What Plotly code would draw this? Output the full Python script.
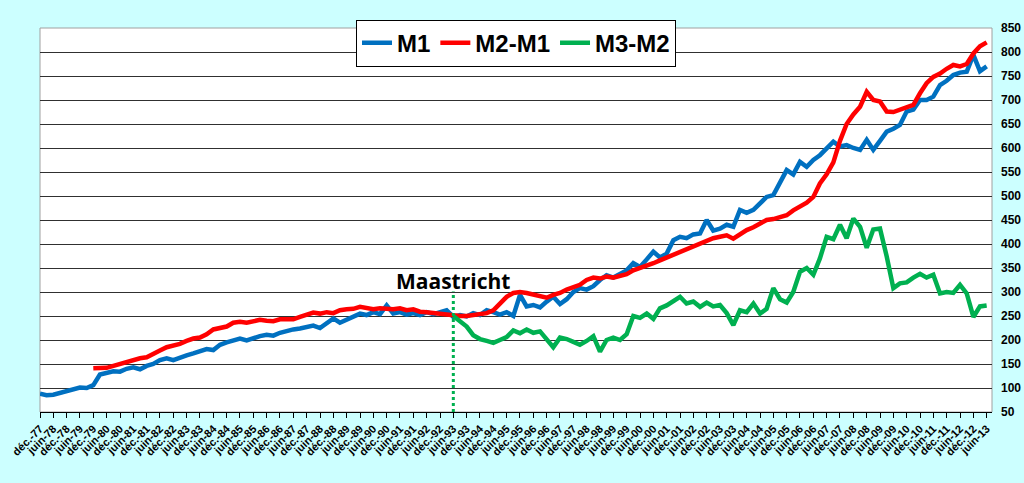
"""
Masse monétaire : M1, M2-M1, M3-M2 (points trimestriels relevés sur le graphique).
"""

import plotly.graph_objects as go
import pandas as pd

# quarterly values, first point déc.-77
m1 = [
    88, 85, 86, 90, 93, 97, 101, 100, 106, 128,
    131, 135, 134, 140, 143, 139, 146, 150, 158, 162,
    158, 164, 168, 172, 176, 181, 179, 190, 195, 200,
    203, 199, 204, 208, 211, 209, 215, 219, 222, 224,
    226, 230, 225, 236, 245, 236, 242, 247, 255, 252,
    258, 254, 272, 255, 258, 253, 256, 252, 258, 254,
    257, 262, 248, 252, 249, 256, 252, 262, 258, 253,
    258, 250, 294, 270, 273, 268, 280, 290, 275, 285,
    300, 308, 305, 312, 325, 335, 330, 338, 345, 360,
    352, 368, 384, 372, 380, 408, 415, 412, 420, 422,
    450, 428, 432, 440, 436, 471, 465, 471, 485, 498,
    502, 530, 554, 545, 571, 561, 575, 585, 600, 613,
    603, 606, 600, 596, 617, 596, 615, 634, 640, 648,
    676, 680, 700, 700, 707, 731, 740, 752, 757, 759,
    794, 760, 770,
]

# starts déc.-79
m2_m1 = [
    141, 142, 142, 146, 150, 155, 160, 162, 164, 170,
    178, 185, 188, 192, 198, 203, 205, 212, 222, 225,
    228, 236, 238, 236, 238, 242, 240, 239, 243, 244,
    243, 248, 252, 257, 255, 258, 256, 262, 264, 265,
    269, 266, 264, 266, 265, 264, 266, 262, 264, 259,
    258, 256, 256, 253, 250, 250, 250, 252, 254, 256,
    262, 275, 290, 298, 300, 298, 294, 292, 288, 294,
    298, 305, 311, 315, 325, 330, 328, 332, 330, 334,
    337, 345, 350, 353, 360, 366, 372, 377, 383, 390,
    395, 401, 408, 412, 415, 418, 411, 420, 429, 435,
    442, 450, 452, 456, 460, 470, 478, 486, 498, 526,
    545, 570, 615, 650, 670, 686, 717, 700, 697, 676,
    675, 680, 685, 690, 714, 735, 748, 755, 765, 773,
    770, 775, 797, 812, 820,
]

# starts juin-93
m3_m2 = [
    250, 240, 228, 210, 202, 198, 194, 200, 206, 220,
    214, 222, 215, 218, 200, 185, 205, 202, 196, 190,
    198, 208, 176, 200, 205, 200, 212, 250, 246, 255,
    244, 266, 272, 280, 290, 276, 280, 269, 278, 270,
    273, 256, 231, 262, 258, 276, 255, 265, 308, 285,
    278, 300, 342, 350, 336, 370, 415, 410, 440, 412,
    453, 436, 392, 430, 432, 374, 308, 318, 320, 330,
    338, 330, 336, 297, 300, 298, 315, 297, 248, 270,
    272,
]

maastricht = "1993-06-01"

dates = pd.date_range("1977-12-01", periods=len(m1), freq="3MS")
dates_m2 = pd.date_range("1979-12-01", periods=len(m2_m1), freq="3MS")
dates_m3 = pd.date_range(maastricht, periods=len(m3_m2), freq="3MS")

tick_dates = pd.date_range("1977-12-01", "2013-06-01", freq="6MS")
tick_text = ["<b>" + ("déc.-" if d.month == 12 else "juin-") + d.strftime("%y") + "</b>"
             for d in tick_dates]

fig = go.Figure()
fig.add_trace(go.Scatter(x=dates, y=m1, name="<b>M1</b>", mode="lines",
                         line=dict(color="#0070C0", width=4.5)))
fig.add_trace(go.Scatter(x=dates_m2, y=m2_m1, name="<b>M2-M1</b>", mode="lines",
                         line=dict(color="#FF0000", width=4.5)))
fig.add_trace(go.Scatter(x=dates_m3, y=m3_m2, name="<b>M3-M2</b>", mode="lines",
                         line=dict(color="#00B050", width=4.5)))

# Maastricht marker
fig.add_shape(type="line", xref="x", yref="y", x0=maastricht, x1=maastricht,
              y0=50, y1=301, line=dict(color="#00B050", width=3, dash="dot"))
fig.add_annotation(x=maastricht, y=323, text="<b>Maastricht</b>", showarrow=False,
                   font=dict(family="Open Sans", size=21, color="black"))

# plot frame
fig.add_shape(type="rect", xref="paper", yref="paper", x0=0, x1=1, y0=0, y1=1,
              line=dict(color="#A0A0A0", width=1), layer="below")

fig.update_layout(
    width=1024,
    height=483,
    paper_bgcolor="#CCFFFF",
    plot_bgcolor="white",
    margin=dict(l=40, r=32, t=28, b=71, autoexpand=False),
    font=dict(family="Liberation Sans", color="black"),
    showlegend=True,
    legend=dict(
        orientation="h", x=0.5, xanchor="center", y=1.022, yanchor="top",
        bgcolor="white", bordercolor="black", borderwidth=1,
        font=dict(size=24, family="Liberation Sans"),
        itemwidth=30,
    ),
    xaxis=dict(
        range=["1977-12-01", "2013-08-13"],
        tickmode="array", tickvals=tick_dates, ticktext=tick_text,
        tickangle=-45, tickfont=dict(size=11, family="Liberation Sans"),
        ticks="outside", ticklen=5, tickcolor="black",
        showline=True, linecolor="black", linewidth=1,
        showgrid=False, zeroline=False,
    ),
    yaxis=dict(
        side="right", range=[50, 850], dtick=50, tick0=50,
        tickfont=dict(size=12, family="Liberation Sans"),
        tickprefix="<b>", ticksuffix="</b>",
        ticks="", ticklabelstandoff=8,
        showgrid=True, gridcolor="#303030", gridwidth=1,
        showline=False, zeroline=False,
    ),
)

fig.write_html("out.html",
               config={"displayModeBar": False},
               post_script="document.body.style.margin='0';"
                           "document.body.style.background='#CCFFFF';")
